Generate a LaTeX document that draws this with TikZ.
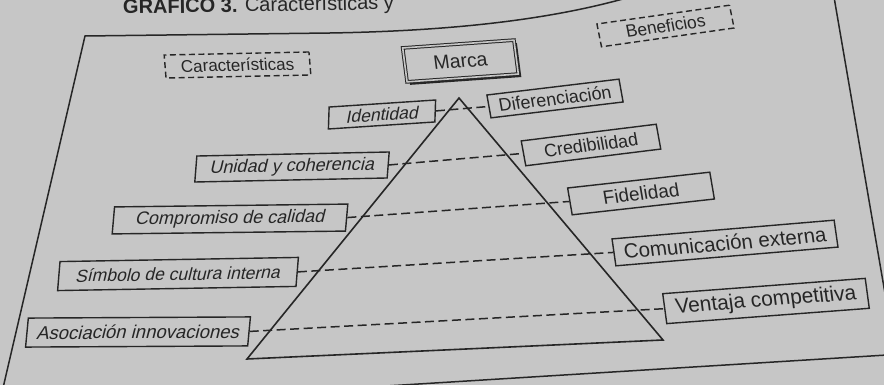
\documentclass[tikz,border=0pt]{standalone}
\usepackage{fontspec}
\setmainfont{Liberation Sans}
\newfontfamily\oblique[FakeSlant=0.16]{Liberation Sans}
\usetikzlibrary{shadows}
\definecolor{paper}{HTML}{C6C6C6}
\definecolor{ink}{HTML}{262626}
\tikzset{
  box/.style={draw=ink, line width=1.4pt, inner sep=0pt, text=ink},
  lt/.style={box, xslant=0.1, font={\oblique\fontsize{#1}{#1}\selectfont}},
  rt/.style={box, xslant=-0.06, font={\fontsize{#1}{#1}\selectfont}},
  wh/.style 2 args={minimum width=#1pt, minimum height=#2pt},
  dashbox/.style={dash pattern=on 6pt off 3.5pt},
  link/.style={draw=ink, line width=1.5pt, dash pattern=on 9pt off 4.5pt},
  frame/.style={draw=ink, line width=1.5pt},
  pyr/.style={draw=ink, line width=1.6pt, line join=miter},
}
\begin{document}
\begin{tikzpicture}[x=1pt, y=-1pt]
  \useasboundingbox (0,0) rectangle (884,385);
  \fill[paper] (0,0) rectangle (884,385);

  % heading, partly off the top of the page
  \node[anchor=base west, inner sep=0pt, text=ink, rotate=1,
        font=\fontsize{20}{20}\selectfont] (title) at (123,14)
        {\textbf{GRÁFICO 3.} Características y};

  % page frame
  \draw[frame] (3,388) -- (85,36) -- (330,33)
        .. controls (450,31) and (550,20) .. (630,-3);
  \draw[frame] (834,-3) -- (887,305);
  \draw[frame] (370,387) -- (887,355);

  % pyramid
  \coordinate (apex) at (459,98);
  \coordinate (bl) at (247,359);
  \coordinate (br) at (663,340);
  \draw[pyr] (apex) -- (bl) -- (br) -- cycle;

  % headers
  \node[rt=17, dashbox, wh={145}{23}, rotate=1.2] (car) at (237.5,65) {Características};
  \node[rt=17.5, dashbox, wh={135}{23}, rotate=8] (ben) at (665.5,26) {Beneficios};
  \node[rt=19.5, wh={112}{34}, rotate=4, fill=paper, double=paper, double distance=1.6pt,
        line width=1pt,
        drop shadow={shadow xshift=3pt, shadow yshift=-3pt, fill=ink, opacity=1}]
        (marca) at (460.5,61) {Marca};

  % characteristics (left)
  \node[lt=17.5, wh={106}{22}, rotate=3.8] (ide) at (382,114.5) {Identidad};
  \node[lt=18, wh={192}{26}, rotate=1.2] (uni) at (292,167) {Unidad y coherencia};
  \node[lt=18, wh={233}{27}, rotate=0.7] (com) at (230,219) {Compromiso de calidad};
  \node[lt=17.5, wh={238}{29}, rotate=1] (sim) at (178,274) {Símbolo de cultura interna};
  \node[lt=18.5, wh={222}{29}, rotate=0.3] (aso) at (138,332) {Asociación innovaciones};

  % benefits (right)
  \node[rt=18, wh={134}{23}, rotate=6.8] (dif) at (555,98.5) {Diferenciación};
  \node[rt=18, wh={137}{25}, rotate=7] (cre) at (591,145) {Credibilidad};
  \node[rt=19, wh={144}{27}, rotate=6.3] (fid) at (641,193.5) {Fidelidad};
  \node[rt=20.5, wh={224}{27}, rotate=4.8] (cex) at (725,243) {Comunicación externa};
  \node[rt=21, wh={204}{30}, rotate=4.3] (ven) at (766,301) {Ventaja competitiva};

  % dashed links across the pyramid
  \draw[link] (ide.east) -- (dif.west);
  \draw[link] (uni.east) -- (cre.west);
  \draw[link] (com.east) -- (fid.west);
  \draw[link] (sim.east) -- (cex.west);
  \draw[link] (aso.east) -- (ven.west);
\end{tikzpicture}
\end{document}
